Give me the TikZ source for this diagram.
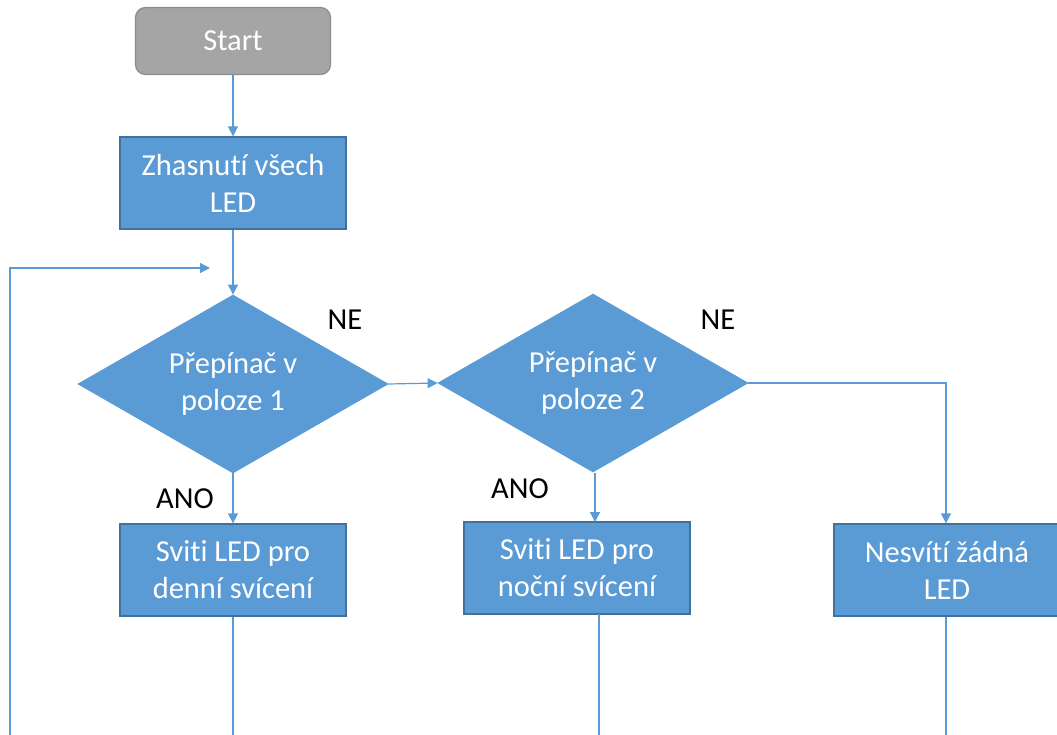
\documentclass[tikz,border=0pt]{standalone}
\usepackage{fontspec}
\setmainfont{Carlito}[Ligatures={NoCommon}]
\usetikzlibrary{shapes.geometric,arrows.meta}
\definecolor{boxblue}{HTML}{5B9BD5}
\definecolor{boxedge}{HTML}{41719C}
\definecolor{startgray}{HTML}{A5A5A5}
\definecolor{startedge}{HTML}{8C8C8C}
\definecolor{linkblue}{HTML}{5B9BD5}
\tikzset{
  basetext/.style={font=\fontsize{30.5}{37}\selectfont, text=white, align=center, inner sep=0pt},
  procbox/.style={basetext, rectangle, fill=boxblue, draw=boxedge, line width=1.2pt, minimum width=226pt, minimum height=92pt},
  startbox/.style={basetext, rectangle, rounded corners=10pt, fill=startgray, draw=startedge, line width=1.2pt, minimum width=195pt, minimum height=67pt},
  decbox/.style={basetext, diamond, aspect=1.74, fill=boxblue, draw=boxblue, line width=0.8pt, minimum width=310pt, minimum height=178pt},
  lbl/.style={font=\fontsize{30.5}{37}\selectfont, text=black, inner sep=0pt},
  link/.style={draw=linkblue, line width=1.2pt},
  arr/.style={link, -{Triangle[width=10pt,length=10pt]}}
}
\begin{document}
\begin{tikzpicture}[x=1pt,y=-1pt]
\useasboundingbox (0,0) rectangle (1057,735);
\clip (0,0) rectangle (1057,735);
\node[startbox] (start) at (233,41) {Start};
\node[procbox] (zhas) at (233,183) {Zhasnutí všech\\LED};
\node[decbox] (d1) at (233,384) {Přepínač v\\poloze 1};
\node[decbox] (d2) at (593,383) {Přepínač v\\poloze 2};
\node[procbox] (b1) at (233,570) {Sviti LED pro\\denní svícení};
\node[procbox] (b2) at (577,568) {Sviti LED pro\\noční svícení};
\node[procbox] (b3) at (947,570) {Nesvítí žádná\\LED};
\node[lbl] (ne1) at (345,320) {NE};
\node[lbl] (ne2) at (718,320) {NE};
\node[lbl] (ano1) at (185,499) {ANO};
\node[lbl] (ano2) at (520,489) {ANO};
\coordinate (loopbot) at (10,735);
\coordinate (loopcorner) at (10,268);
\coordinate (loopend) at (210,268);
\coordinate (d2out) at (595,473);
\coordinate (b2in) at (595,522);
\coordinate (b2out) at (599,614);
\coordinate (bot1) at (233,735);
\coordinate (bot2) at (599,735);
\coordinate (bot3) at (946,735);
\draw[arr] (start.south) -- (zhas.north);
\draw[arr] (zhas.south) -- (d1.north);
\draw[arr] (loopbot) -- (loopcorner) -- (loopend);
\draw[arr] (d1.east) -- (d2.west);
\draw[arr] (d2.east) -| (bot3 |- b3.north);
\draw[arr] (d1.south) -- (b1.north);
\draw[arr] (d2out) -- (b2in);
\draw[link] (b1.south) -- (bot1);
\draw[link] (b2out) -- (bot2);
\draw[link] (bot3 |- b3.south) -- (bot3);
\end{tikzpicture}
\end{document}
